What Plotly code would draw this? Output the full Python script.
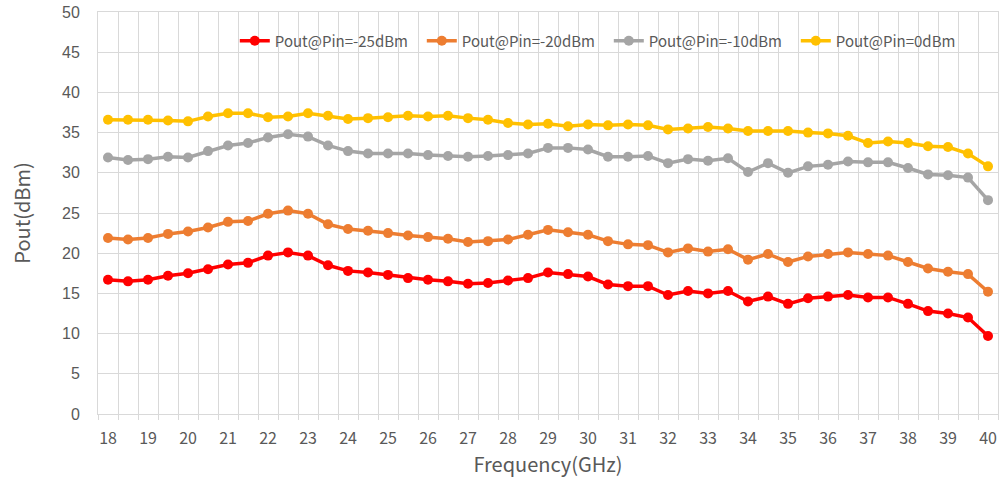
import plotly.graph_objects as go

freq = [18 + 0.5 * i for i in range(45)]

pin_m25 = [16.7, 16.5, 16.7, 17.2, 17.5, 18.0, 18.6, 18.8, 19.7, 20.1, 19.7, 18.5, 17.8, 17.6, 17.3,
           16.9, 16.7, 16.5, 16.2, 16.3, 16.6, 16.9, 17.6, 17.4, 17.1, 16.1, 15.9, 15.9, 14.8, 15.3,
           15.0, 15.3, 14.0, 14.6, 13.7, 14.4, 14.6, 14.8, 14.5, 14.5, 13.7, 12.8, 12.5, 12.0, 9.7]
pin_m20 = [21.9, 21.7, 21.9, 22.4, 22.7, 23.2, 23.9, 24.0, 24.9, 25.3, 24.9, 23.6, 23.0, 22.8, 22.5,
           22.2, 22.0, 21.8, 21.4, 21.5, 21.7, 22.3, 22.9, 22.6, 22.3, 21.5, 21.1, 21.0, 20.1, 20.6,
           20.2, 20.5, 19.2, 19.9, 18.9, 19.6, 19.9, 20.1, 19.9, 19.7, 18.9, 18.1, 17.7, 17.4, 15.2]
pin_m10 = [31.9, 31.6, 31.7, 32.0, 31.9, 32.7, 33.4, 33.7, 34.4, 34.8, 34.5, 33.4, 32.7, 32.4, 32.4,
           32.4, 32.2, 32.1, 32.0, 32.1, 32.2, 32.4, 33.1, 33.1, 32.9, 32.0, 32.0, 32.1, 31.2, 31.7,
           31.5, 31.8, 30.1, 31.2, 30.0, 30.8, 31.0, 31.4, 31.3, 31.3, 30.6, 29.8, 29.7, 29.4, 26.6]
pin_0 = [36.6, 36.6, 36.6, 36.5, 36.4, 37.0, 37.4, 37.4, 36.9, 37.0, 37.4, 37.1, 36.7, 36.8, 36.9,
         37.1, 37.0, 37.1, 36.8, 36.6, 36.2, 36.0, 36.1, 35.8, 36.0, 35.9, 36.0, 35.9, 35.4, 35.5,
         35.7, 35.5, 35.2, 35.2, 35.2, 35.0, 34.9, 34.6, 33.7, 33.9, 33.7, 33.3, 33.2, 32.4, 30.8]

names = ["Pout@Pin=-25dBm", "Pout@Pin=-20dBm", "Pout@Pin=-10dBm", "Pout@Pin=0dBm"]
colors = ["#FF0000", "#ED7D31", "#A5A5A5", "#FFC000"]
series = [pin_m25, pin_m20, pin_m10, pin_0]
x_ticks = list(range(18, 41))
y_ticks = list(range(0, 51, 5))

fig = go.Figure()
for nm, col, ys in zip(names, colors, series):
    fig.add_trace(go.Scatter(
        x=freq, y=ys, name=nm, mode="lines+markers",
        line=dict(color=col, width=3.5),
        marker=dict(color=col, size=10),
    ))

grid = "#D9D9D9"
fig.update_layout(
    width=1006, height=481, autosize=False,
    margin=dict(l=98, r=8, t=12, b=67),
    paper_bgcolor="white", plot_bgcolor="white",
    font=dict(family="Noto Sans CJK SC, Noto Sans, sans-serif", color="#595959"),
    showlegend=True,
    legend=dict(orientation="h", x=0.152, y=0.928, xanchor="left", yanchor="middle",
                bgcolor="rgba(0,0,0,0)", font=dict(size=15, color="#595959"),
                itemwidth=30, tracegroupgap=0, entrywidth=142, entrywidthmode="pixels"),
    xaxis=dict(
        range=[17.75, 40.25], tickmode="array", tickvals=x_ticks,
        showgrid=False, zeroline=False, automargin=False,
        showline=True, linecolor=grid, linewidth=1, mirror=True,
        ticks="", tickfont=dict(size=16, color="#595959"), ticklabelstandoff=10,
        title=dict(text="Frequency(GHz)", font=dict(size=20, color="#595959"), standoff=2),
        minor=dict(tickmode="linear", tick0=17.75, dtick=0.5, showgrid=True,
                   gridcolor=grid, gridwidth=1, ticks="outside", ticklen=5, tickcolor=grid),
    ),
    yaxis=dict(
        range=[0, 50], tickmode="array", tickvals=y_ticks,
        showgrid=True, gridcolor=grid, gridwidth=1, zeroline=False, automargin=False,
        showline=True, linecolor=grid, linewidth=1, mirror=True, ticklabeloverflow="allow",
        tickfont=dict(size=16, color="#595959", family="Liberation Sans, Arial, sans-serif"),
        ticks="", ticklabelstandoff=14,
        title=dict(text="Pout(dBm)", font=dict(size=20, color="#595959"), standoff=26),
    ),
)

fig.write_html("out.html", config={"displayModeBar": False, "responsive": False},
               post_script="document.body.style.margin='0';document.body.style.overflow='hidden';")
